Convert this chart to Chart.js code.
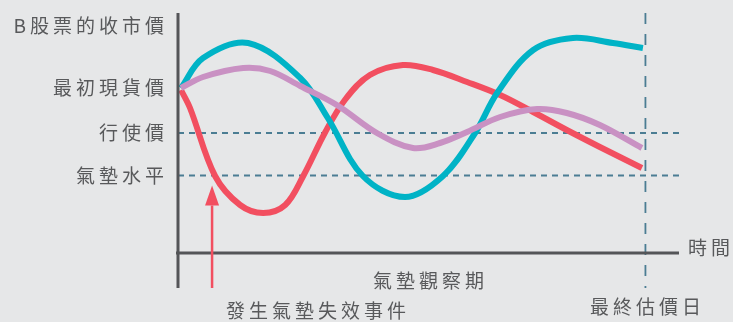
<!DOCTYPE html>
<html>
<head>
<meta charset="utf-8">
<script src="https://cdn.jsdelivr.net/npm/chart.js@4"></script>
<style>
html, body { margin: 0; padding: 0; background: #e6e7e8; }
#wrap { width: 733px; height: 322px; }
</style>
</head>
<body>
<div id="wrap"><canvas id="chart" width="733" height="322"></canvas></div>
<script>
// price paths (time 0-100, price in arbitrary units)
const purpleTime = [0.6, 5, 13, 18.4, 24.4, 31.7, 39.7, 46.9, 52.3, 57.7, 64.3, 71.7, 77.6, 84.2, 92.6]
const purplePrice = [66, 70.4, 74, 72.8, 66.8, 59.2, 48, 42, 44, 48.4, 54.4, 57.6, 56, 51.2, 42]

const cyanTime = [0.6, 5, 14, 24.4, 29.9, 36.9, 45.3, 52.9, 59.3, 63.7, 70.9, 78.8, 86.8, 92.8]
const cyanPrice = [66, 78, 84, 70, 54, 30.8, 22.4, 30.8, 48, 64, 81.2, 86, 84, 82]

const redTime = [0.6, 2.4, 7.4, 12.4, 17, 21.4, 25, 29.3, 33.3, 38.3, 44.9, 50.9, 57.7, 64.3, 70.9, 77.6, 84.2, 92.6]
const redPrice = [65.2, 58, 30.8, 19.2, 16, 19.2, 30.8, 48, 61.2, 71.2, 75.2, 73.2, 68.4, 63.2, 56.4, 49.2, 42.4, 34]

// reference levels
const initialPrice = 66
const strikePrice = 48
const cushionLevel = 31
const finalDay = 93.3
const eventDay = 6.8
const axisEnd = 100

const yLabels = ["B股票的收市價", "最初現貨價", "行使價", "氣墊水平"]
const yLabelValues = [91, initialPrice, strikePrice, cushionLevel]

const textColor = "#58595b"
const axisColor = "#545558"
const dashColor = "#4b7d93"
const red = "#f24f60"

const toPoints = (xs, ys) => xs.map((x, i) => ({ x: x, y: ys[i] }))

// axes, arrow and text are drawn from the scales
const extras = {
    id: "extras",
    afterDatasetsDraw(chart) {
        const ctx = chart.ctx
        const xs = chart.scales.x
        const ys = chart.scales.y
        const x0 = xs.getPixelForValue(0)
        const y0 = ys.getPixelForValue(0)

        ctx.save()
        ctx.strokeStyle = axisColor
        ctx.lineWidth = 3
        ctx.beginPath()
        ctx.moveTo(x0, ys.getPixelForValue(ys.max))
        ctx.lineTo(x0, ys.getPixelForValue(ys.min))
        ctx.moveTo(x0 - 2, y0)
        ctx.lineTo(xs.getPixelForValue(axisEnd), y0)
        ctx.stroke()

        // arrow for the cushion event
        const ax = xs.getPixelForValue(eventDay)
        const tip = ys.getPixelForValue(27)
        const base = ys.getPixelForValue(19)
        ctx.strokeStyle = red
        ctx.fillStyle = red
        ctx.lineWidth = 2.5
        ctx.beginPath()
        ctx.moveTo(ax, ys.getPixelForValue(ys.min))
        ctx.lineTo(ax, base)
        ctx.stroke()
        ctx.beginPath()
        ctx.moveTo(ax, tip)
        ctx.lineTo(ax - 7, base)
        ctx.lineTo(ax + 7, base)
        ctx.closePath()
        ctx.fill()

        ctx.fillStyle = textColor
        ctx.font = '19px "Noto Sans CJK TC", "Noto Sans", sans-serif'
        ctx.letterSpacing = "4px"
        ctx.textBaseline = "middle"

        ctx.textAlign = "right"
        yLabels.forEach((label, i) => {
            ctx.fillText(label, x0 - 10, ys.getPixelForValue(yLabelValues[i]))
        })

        ctx.textAlign = "left"
        ctx.fillText("時間", xs.getPixelForValue(axisEnd) + 9, y0 - 5)
        ctx.fillText("發生氣墊失效事件", ax + 14, y0 + 58)

        ctx.textAlign = "center"
        ctx.fillText("氣墊觀察期", (x0 + xs.getPixelForValue(axisEnd)) / 2 + 2, y0 + 28)
        ctx.fillText("最終估價日", xs.getPixelForValue(finalDay) + 2, y0 + 54)
        ctx.restore()
    }
}

const curve = (label, data, color) => ({
    label: label,
    data: data,
    borderColor: color,
    borderWidth: 6,
    pointRadius: 0,
    tension: 0.35,
    fill: false
})

const dashed = (label, data, dash) => ({
    label: label,
    data: data,
    borderColor: dashColor,
    borderWidth: 1.8,
    borderDash: dash,
    pointRadius: 0,
    tension: 0,
    fill: false
})

new Chart(document.getElementById("chart"), {
    type: "line",
    data: {
        datasets: [
            curve("purple", toPoints(purpleTime, purplePrice), "#c991c3"),
            curve("cyan", toPoints(cyanTime, cyanPrice), "#00b3c6"),
            curve("red", toPoints(redTime, redPrice), red),
            dashed("strike", [{ x: 0, y: strikePrice }, { x: axisEnd, y: strikePrice }], [6, 5]),
            dashed("cushion", [{ x: 0, y: cushionLevel }, { x: axisEnd, y: cushionLevel }], [6, 5]),
            dashed("final", [{ x: finalDay, y: 96 }, { x: finalDay, y: -14 }], [11, 10])
        ]
    },
    options: {
        responsive: false,
        animation: false,
        devicePixelRatio: 1,
        layout: { padding: { left: 178, right: 54, top: 13, bottom: 34 } },
        plugins: { legend: { display: false }, tooltip: { enabled: false } },
        scales: {
            x: { type: "linear", min: 0, max: axisEnd, display: false },
            y: { type: "linear", min: -14, max: 96, display: false }
        }
    },
    plugins: [extras]
})
</script>
</body>
</html>
